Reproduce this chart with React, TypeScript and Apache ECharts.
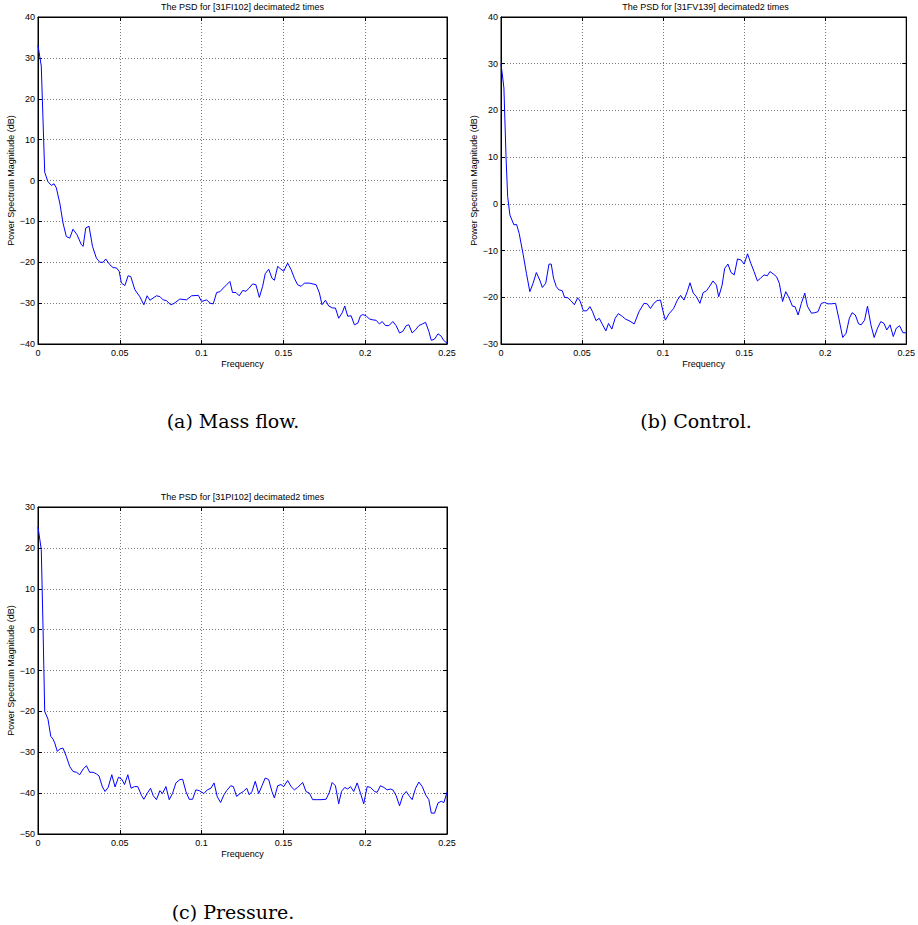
import React, { useEffect, useRef } from "react";
import * as echarts from "echarts";

// ---- Data ----
const titles = [
  "The PSD for [31FI102] decimated2 times",
  "The PSD for [31FV139] decimated2 times",
  "The PSD for [31PI102] decimated2 times",
];
const captions = ["(a) Mass flow.", "(b) Control.", "(c) Pressure."];
const yRangeA = [-40, 40];
const yRangeB = [-30, 40];
const yRangeC = [-50, 30];

const freqA = [
  0, 0.002, 0.0041, 0.0061, 0.0082, 0.0098, 0.0112, 0.0133, 0.0153, 0.0173,
  0.0194, 0.0214, 0.0239, 0.0265, 0.0276, 0.0292, 0.0312, 0.0333, 0.0357, 0.0378,
  0.0398, 0.0414, 0.0439, 0.0459, 0.048, 0.0496, 0.051, 0.0531, 0.0551, 0.0567,
  0.0592, 0.0622, 0.0647, 0.0667, 0.0684, 0.0724, 0.0745, 0.0765, 0.0786, 0.081,
  0.0831, 0.0867, 0.0908, 0.0939, 0.098, 0.1, 0.1031, 0.1051, 0.1071, 0.1092,
  0.1112, 0.1133, 0.1173,
  0.1189, 0.121, 0.123, 0.1251, 0.1271, 0.1291, 0.1312, 0.1332, 0.1353, 0.1373,
  0.1389, 0.141, 0.143, 0.1445, 0.1465, 0.1485, 0.1502, 0.1526, 0.1547, 0.1567,
  0.1587, 0.1608, 0.1628, 0.1659, 0.17, 0.172, 0.1736, 0.1757, 0.1777, 0.1802,
  0.1818, 0.1838, 0.1859, 0.1875, 0.1893, 0.1914, 0.1934, 0.1955, 0.1971, 0.1985,
  0.2006, 0.2026, 0.2047, 0.2067, 0.2087, 0.2104, 0.2124, 0.2145, 0.2169, 0.2189,
  0.221, 0.223, 0.2251, 0.2267, 0.2287, 0.2308, 0.2328, 0.2349, 0.2369, 0.2389,
  0.2404, 0.2424, 0.2445, 0.2465, 0.2479, 0.25,
];
const psdA = [
  33, 28, 2, -0.3, -1.2, -0.8, -1.8, -5.5, -10.4, -13.7,
  -14.1, -11.9, -13.3, -15.7, -16.1, -11.6, -11.2, -16.1, -19, -20,
  -20, -19.2, -20.6, -21.3, -21.4, -22.2, -25.1, -25.7, -23.3, -23.5,
  -26.7, -28.4, -30.4, -28.2, -29.3, -28.2, -28.4, -29.2, -29.4, -30.4,
  -30.1, -29, -29.2, -28.2, -28.1, -29.6, -29.2, -30.0, -30.2, -27.4,
  -27.2, -26.3, -24.7,
  -27.4, -27.4, -28.2, -26.9, -27.1, -26.3, -25.3, -25.5, -28.6, -25.9,
  -22.8, -21.7, -23.9, -24.4, -21.0, -21.7, -22.2, -20.2, -21.8, -23.9,
  -25.5, -25.9, -25.1, -25.1, -25.5, -27.5, -30.4, -29.3, -30.7, -31.2,
  -31.2, -33.7, -32.4, -30.7, -33.2, -33.1, -35.3, -34.9, -33.1, -32.8,
  -33.1, -33.9, -34.1, -34.2, -35.1, -34.5, -35.5, -35.5, -34.5, -35.5,
  -37.3, -36.9, -35.5, -35.3, -37.3, -36.5, -35.5, -35.1, -34.7, -36.9,
  -39.1, -38.8, -37.5, -38.1, -39.1, -39.8,
];

const freqB = [
  0, 0.0018, 0.0031, 0.0041, 0.0055, 0.008, 0.0096, 0.0112, 0.0137, 0.0157,
  0.0178, 0.0198, 0.0218, 0.0239, 0.0255, 0.0276, 0.0296, 0.031, 0.0324, 0.0341,
  0.0357, 0.0378, 0.0392, 0.0412, 0.0433, 0.0453, 0.0473, 0.0488, 0.0508, 0.0529,
  0.0549, 0.0565, 0.0586, 0.0606, 0.0627, 0.0647, 0.0663, 0.0684, 0.0704, 0.0724,
  0.0749, 0.0769, 0.079, 0.0822, 0.0851, 0.0882, 0.0902, 0.0922, 0.0943, 0.0963,
  0.0984, 0.1, 0.1014, 0.1035, 0.1065,
  0.1088, 0.1108, 0.1129, 0.1149, 0.1166, 0.1186, 0.1206, 0.1227, 0.1247, 0.1268,
  0.1288, 0.1308, 0.1329, 0.1343, 0.1364, 0.138, 0.14, 0.1419, 0.1439, 0.1459,
  0.148, 0.15, 0.1521, 0.1541, 0.1561, 0.1582, 0.1602, 0.1623, 0.1643, 0.1659,
  0.168, 0.17, 0.1717, 0.1737, 0.1757, 0.1778, 0.1798, 0.1814, 0.1833, 0.1853,
  0.1874, 0.189, 0.1915, 0.1935, 0.1955, 0.1976, 0.1996, 0.2017, 0.2037, 0.2064,
  0.2084, 0.2108, 0.2129, 0.2149, 0.2166, 0.2186, 0.2206, 0.2222, 0.2243, 0.2261,
  0.2282, 0.2302, 0.2323, 0.2343, 0.2363, 0.238, 0.24, 0.242, 0.2439, 0.2459,
  0.248, 0.25,
];
const psdB = [
  30, 24.8, 10.1, 1.6, -2.4, -4.5, -4.4, -6.3, -10.9, -14.9,
  -18.8, -17.0, -14.7, -16.3, -17.9, -17.0, -12.9, -12.9, -15.9, -17.7,
  -18.4, -18.6, -20, -20.1, -20.8, -21.6, -20.1, -20.8, -22.9, -22.9,
  -22, -23.1, -25, -24.5, -25.9, -27.2, -25.6, -26.8, -24.5, -23.5,
  -24.1, -24.7, -25.0, -25.7, -23.1, -21.3, -21.4, -22.4, -21.3, -20.7,
  -20.6, -23.1, -24.9, -23.6, -22.4,
  -20.6, -19.6, -20.6, -18.8, -16.9, -19.1, -19.9, -21.3, -19, -18.6,
  -17.6, -16.5, -17.4, -19.9, -17.4, -13.8, -12.9, -14.7, -15.2, -11.8,
  -12, -12.9, -10.7, -12.7, -14.5, -16.5, -15.9, -15.2, -15.4, -14.5,
  -15, -15.6, -17, -20.9, -18.8, -20.2, -21.9, -22, -23.8, -21.3,
  -19.1, -21.9, -23.4, -23.3, -23.1, -21.3, -21.1, -21.4, -21.4, -21.3,
  -24.5, -28.6, -27.7, -24.5, -23.3, -23.8, -25.7, -25.9, -24.9, -21.9,
  -25.9, -28.6, -26.6, -25.2, -25.6, -27, -25.9, -28.4, -26.6, -26.1,
  -27.6, -27.6,
];

const freqC = [
  0, 0.002, 0.0031, 0.0041, 0.0061, 0.0078, 0.0092, 0.0102, 0.0118, 0.0133,
  0.0153, 0.0173, 0.0194, 0.0214, 0.0235, 0.0255, 0.0276, 0.0296, 0.0316, 0.0337,
  0.0357, 0.0373, 0.0394, 0.041, 0.0429, 0.0451, 0.0471, 0.0492, 0.0512, 0.0529,
  0.0549, 0.0569, 0.059, 0.061, 0.0633, 0.0647, 0.0667, 0.0688, 0.0704, 0.0724,
  0.0745, 0.0761, 0.0782, 0.0802, 0.0822, 0.0843, 0.0867, 0.0884, 0.0904, 0.0924,
  0.0945, 0.0965, 0.0986, 0.1014, 0.1035, 0.1057, 0.1076, 0.1096, 0.1116, 0.1137,
  0.1153, 0.1178, 0.1194, 0.1214, 0.1235, 0.1255, 0.1276,
  0.1291, 0.1308, 0.1328, 0.1349, 0.1369, 0.1389, 0.141, 0.143, 0.1445, 0.1465,
  0.1485, 0.1502, 0.1526, 0.1547, 0.1567, 0.1587, 0.1618, 0.1638, 0.1659, 0.1679,
  0.17, 0.173, 0.1761, 0.1781, 0.1798, 0.1818, 0.1838, 0.1855, 0.1875, 0.1893,
  0.191, 0.193, 0.1951, 0.1971, 0.1991, 0.2012, 0.2032, 0.2057, 0.2073, 0.2093,
  0.2114, 0.2134, 0.2155, 0.2169, 0.2189, 0.221, 0.223, 0.2251, 0.2271, 0.2287,
  0.2308, 0.2328, 0.2349, 0.2369, 0.2389, 0.2404, 0.2424, 0.2445, 0.2465, 0.2481,
  0.25,
];
const psdC = [
  25.1, 19.6, 0, -20, -21.9, -26.1, -26.8, -27.7, -29.8, -29.2,
  -29, -31, -33.5, -34.7, -34.9, -35.5, -34.1, -33.3, -34.9, -34.9,
  -35.3, -35.8, -38.5, -39.6, -38.6, -35.5, -38.5, -36.1, -36.6, -37.9,
  -35.5, -38.8, -38.4, -38.4, -40.6, -41.5, -40.1, -38.8, -40.6, -41.6,
  -39.4, -40.1, -38.4, -41.6, -40.1, -37.5, -36.7, -36.6, -39.6, -41.5,
  -41.5, -39.2, -39.4, -40.1, -39.2, -38.8, -37.5, -40.9, -42.3, -40.4,
  -39.4, -38.2, -38.4, -40.8, -40.1, -39.6, -38.8,
  -40.4, -39.6, -37.1, -40.1, -38.2, -36.3, -36.7, -39.6, -41.2, -38.2,
  -37.9, -38.4, -36.9, -38.4, -39.2, -38.6, -37.4, -39.6, -40, -41.6,
  -41.6, -41.6, -41.5, -39.8, -37.4, -38.2, -42.6, -39.6, -38.6, -39,
  -38.4, -39.6, -37.5, -40, -42.6, -38.4, -38.6, -39.6, -39.8, -38.2,
  -38.6, -39.2, -39, -39.2, -40.6, -43.1, -40.6, -39.6, -40.8, -41.6,
  -38.8, -37.3, -38.4, -40.4, -41.6, -44.9, -44.9, -42.4, -42, -42.3,
  -39.8,
];

const panels = [
  { freq: freqA, psd: psdA, yRange: yRangeA, left: 38, top: 17, capX: 233, capY: 421 },
  { freq: freqB, psd: psdB, yRange: yRangeB, left: 501, top: 17, capX: 696, capY: 421 },
  { freq: freqC, psd: psdC, yRange: yRangeC, left: 38, top: 507, capX: 233, capY: 912 },
];

const GW = 409;
const GH = 327;
const FONT = "Liberation Sans, Arial, sans-serif";
const fmtX = (v: number) => String(+v.toFixed(2));
const fmtY = (v: number) => String(v).replace("-", "\u2212");

export default function App() {
  const ref = useRef<HTMLDivElement>(null);
  useEffect(() => {
    if (!ref.current) return;
    const chart = echarts.init(ref.current, undefined, { renderer: "svg" });
    const grid: any[] = [];
    const xAxis: any[] = [];
    const yAxis: any[] = [];
    const series: any[] = [];
    const title: any[] = [];
    const graphic: any[] = [];
    const tickStyle = { show: true, inside: true, length: 4, lineStyle: { color: "#000", width: 1 } };
    panels.forEach((p, i) => {
      grid.push({
        left: p.left, top: p.top, width: GW, height: GH,
        show: true, borderColor: "#000", borderWidth: 1, backgroundColor: "#fff",
      });
      const xBase = {
        type: "value", gridIndex: i, min: 0, max: 0.25, interval: 0.05,
        axisLine: { show: true, onZero: false, lineStyle: { color: "#000", width: 1 } },
        axisTick: tickStyle,
      };
      xAxis.push({
        ...xBase, position: "bottom",
        name: "Frequency", nameLocation: "middle", nameGap: 15,
        nameTextStyle: { fontSize: 9, fontFamily: FONT, color: "#000" },
        axisLabel: { fontSize: 9, fontFamily: FONT, color: "#000", margin: 4, formatter: fmtX },
        splitLine: { show: true, lineStyle: { color: "#777", width: 1, type: [1, 2] } },
      });
      xAxis.push({
        ...xBase, position: "top",
        axisLabel: { show: false }, splitLine: { show: false },
      });
      const yBase = {
        type: "value", gridIndex: i, min: p.yRange[0], max: p.yRange[1], interval: 10,
        axisLine: { show: true, onZero: false, lineStyle: { color: "#000", width: 1 } },
        axisTick: tickStyle,
      };
      yAxis.push({
        ...yBase, position: "left",
        name: "Power Spectrum Magnitude (dB)", nameLocation: "middle", nameGap: 21,
        nameTextStyle: { fontSize: 9, fontFamily: FONT, color: "#000" },
        axisLabel: { fontSize: 9, fontFamily: FONT, color: "#000", margin: 3, formatter: fmtY },
        splitLine: { show: true, lineStyle: { color: "#777", width: 1, type: [1, 2] } },
      });
      yAxis.push({
        ...yBase, position: "right",
        axisLabel: { show: false }, splitLine: { show: false },
      });
      series.push({
        type: "line",
        xAxisIndex: 2 * i, yAxisIndex: 2 * i,
        data: p.freq.map((f, k) => [f, p.psd[k]]),
        showSymbol: false, symbol: "none",
        lineStyle: { color: "#0000ff", width: 1 },
        clip: true,
      });
      title.push({
        text: titles[i],
        left: p.left + GW / 2, top: p.top - 15, textAlign: "center", padding: 0,
        textStyle: { fontSize: 9, fontWeight: "normal", fontFamily: FONT, color: "#000" },
      });
      graphic.push({
        type: "text", x: p.capX, y: p.capY,
        style: {
          text: captions[i], fontSize: 19, fontFamily: "DejaVu Serif, serif",
          fill: "#000", textAlign: "center", textVerticalAlign: "middle", verticalAlign: "middle",
        },
      });
    });
    chart.setOption({
      animation: false,
      backgroundColor: "#fff",
      grid, xAxis, yAxis, series, title, graphic,
    });
    return () => chart.dispose();
  }, []);
  return (
    <div
      ref={ref}
      style={{ position: "absolute", left: 0, top: 0, width: 918, height: 925, background: "#fff" }}
    />
  );
}
